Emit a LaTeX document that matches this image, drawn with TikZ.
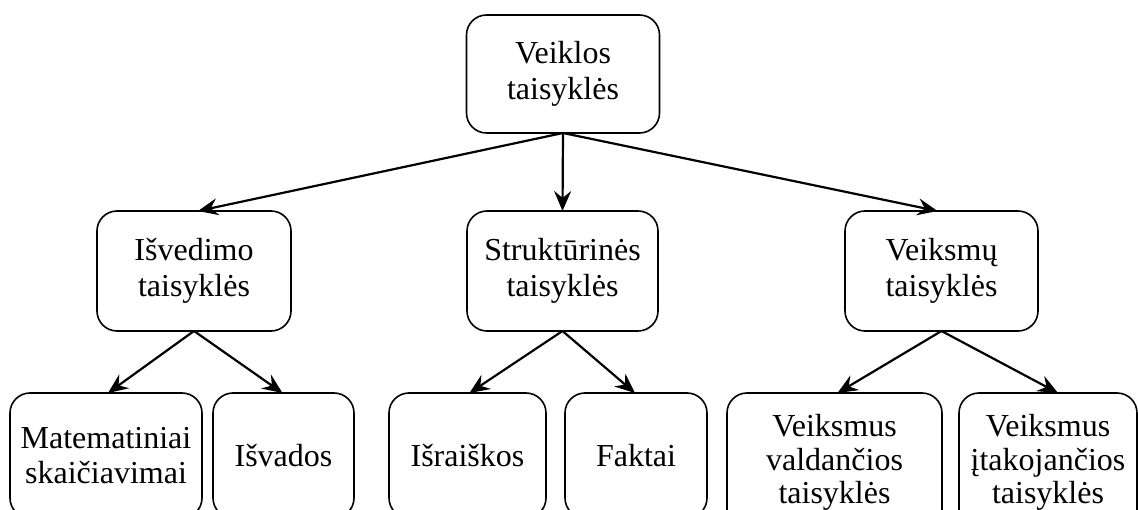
\documentclass[tikz,border=0pt]{standalone}
\usepackage{fontspec}
\setmainfont{Liberation Serif}
\usetikzlibrary{arrows.meta}

\tikzset{
  rulebox/.style={draw, line width=1.6pt, rounded corners=20pt, align=center,
    inner sep=0pt, outer sep=0pt, font=\fontsize{32}{35.5}\selectfont},
  boxA/.style={rulebox, minimum height=118pt},
  boxB/.style={rulebox, minimum height=120pt},
  boxC/.style={rulebox, minimum height=125pt},
  boxD/.style={rulebox, minimum height=139pt, font=\fontsize{32}{33.5}\selectfont},
  link/.style={line width=2.2pt, -{Stealth[length=20pt,width=17pt,inset=7pt]}},
}

\begin{document}
\begin{tikzpicture}[x=1pt,y=-1pt]
  \useasboundingbox (0,0) rectangle (1138,510);
  \clip (0,0) rectangle (1138,510);

  % root
  \node[boxA, minimum width=193pt] (root) at (563,74) {Veiklos\\taisyklės};

  % second level
  \node[boxB, minimum width=194pt] (isv) at (194,271) {Išvedimo\\taisyklės};
  \node[boxB, minimum width=191pt] (str) at (562.5,271) {Struktūrinės\\taisyklės};
  \node[boxB, minimum width=193pt] (vei) at (941.5,271) {Veiksmų\\taisyklės};

  % leaves
  \node[boxC, minimum width=192pt] (mat) at (106,455.5) {Matematiniai\\skaičiavimai};
  \node[boxC, minimum width=141pt] (isvad) at (283.5,455.5) {Išvados};
  \node[boxC, minimum width=157pt] (isr) at (467.5,455.5) {Išraiškos};
  \node[boxC, minimum width=142pt] (fak) at (636,455.5) {Faktai};
  \node[boxD, minimum width=215pt] (val) at (834.5,462.5) {Veiksmus\\valdančios\\taisyklės};
  \node[boxD, minimum width=178pt] (ita) at (1048,462.5) {Veiksmus\\įtakojančios\\taisyklės};

  % connectors
  \draw[link] (root.south) -- ([xshift=4pt]isv.north);
  \draw[link] (root.south) -- (str.north);
  \draw[link] (root.south) -- ([xshift=-4pt]vei.north);

  \draw[link] (isv.south) -- ([xshift=2pt]mat.north);
  \draw[link] (isv.south) -- ([xshift=-1pt]isvad.north);
  \draw[link] (str.south) -- ([xshift=2pt]isr.north);
  \draw[link] (str.south) -- ([xshift=-1pt]fak.north);
  \draw[link] (vei.south) -- ([xshift=3pt]val.north);
  \draw[link] (vei.south) -- ([xshift=10pt]ita.north);
\end{tikzpicture}
\end{document}
